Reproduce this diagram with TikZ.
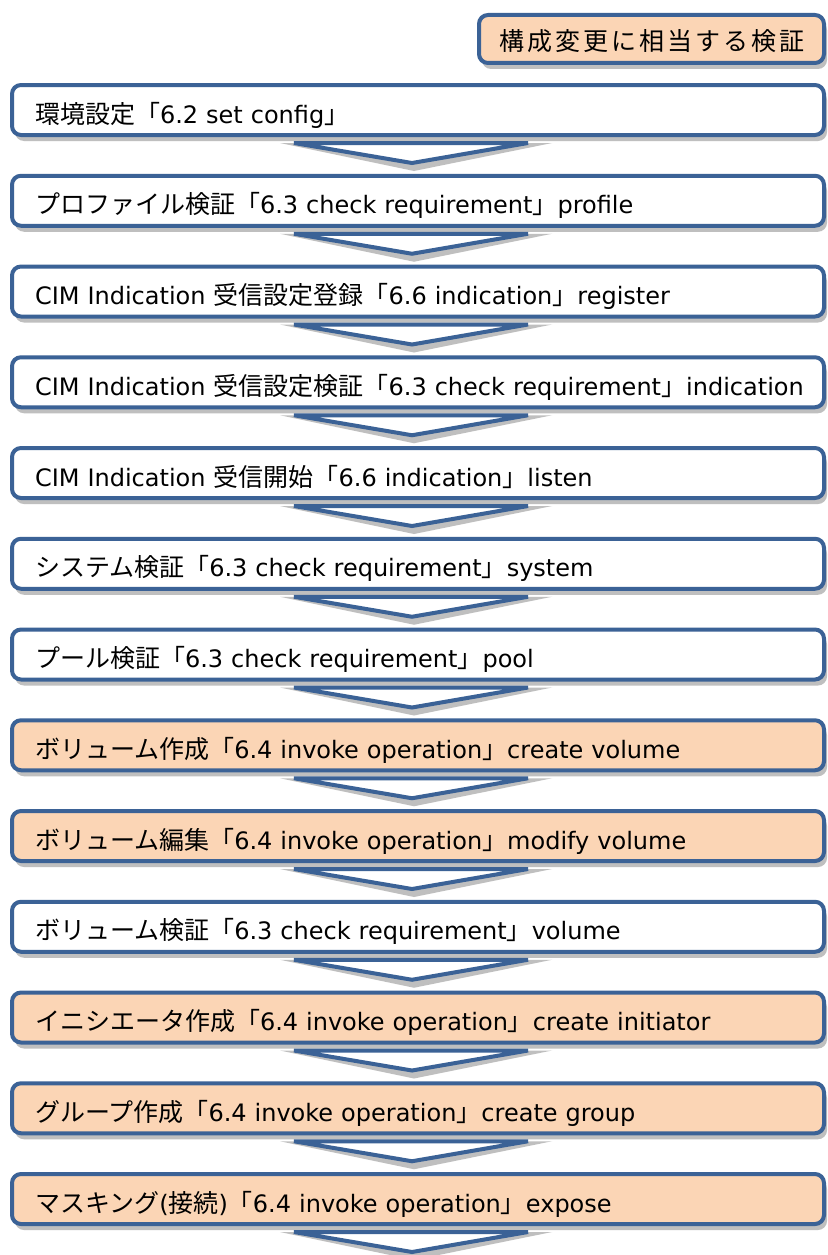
\documentclass[tikz,border=0pt]{standalone}
\usepackage{fontspec}
\setmainfont{DejaVu Sans}
\newfontfamily\jpfont{Noto Sans CJK JP}
\newfontfamily\hdrfont[LetterSpace=12]{Noto Sans CJK JP}
\usetikzlibrary{positioning,calc,shadows}
\definecolor{stepblue}{HTML}{3B6296}
\definecolor{peach}{HTML}{FBD5B5}
\newcommand\jp[1]{{\jpfont\fontsize{25pt}{28pt}\selectfont #1}}
\tikzset{
stepbox/.style={draw=stepblue, line width=4pt, fill=white, rounded corners=9pt, outer sep=0pt,
  minimum height=50pt, inner xsep=23pt, inner ysep=0pt, text width=766pt, align=left,
  text height=26pt, text depth=0pt, font=\fontsize{24pt}{28pt}\selectfont,
  drop shadow={shadow xshift=3pt, shadow yshift=-6pt, fill=black!25, opacity=1},
  execute at begin node={\hbox\bgroup}, execute at end node={\egroup}},
opbox/.style={stepbox, fill=peach},
hdrbox/.style={draw=stepblue, line width=4pt, fill=peach, rounded corners=9pt, outer sep=0pt,
  minimum width=345pt, minimum height=48pt, inner sep=0pt, text height=24pt, text depth=0pt,
  font=\hdrfont\fontsize{25pt}{28pt}\selectfont,
  drop shadow={shadow xshift=3pt, shadow yshift=-6pt, fill=black!25, opacity=1}},
chev/.style={draw=stepblue, line width=4pt, fill=white},
chevshadow/.style={fill=black!25}
}
\begin{document}
\begin{tikzpicture}
\path[use as bounding box, fill=white] (0,0) rectangle (827pt,-1255pt);
\node[hdrbox, anchor=north west] (hdr) at (479pt,-15pt) {構成変更に相当する検証};
\node[stepbox, anchor=north west] (cfg) at (12pt,-85pt) {\jp{環境設定「}6.2 set config\jp{」}};
\node[stepbox, below=40.75pt of cfg] (prof) {\jp{プロファイル検証「}6.3 check requirement\jp{」}profile};
\node[stepbox, below=40.75pt of prof] (indreg) {CIM Indication \jp{受信設定登録「}6.6 indication\jp{」}register};
\node[stepbox, below=40.75pt of indreg] (indchk) {CIM Indication \jp{受信設定検証「}6.3 check requirement\jp{」}indication};
\node[stepbox, below=40.75pt of indchk] (listen) {CIM Indication \jp{受信開始「}6.6 indication\jp{」}listen};
\node[stepbox, below=40.75pt of listen] (sys) {\jp{システム検証「}6.3 check requirement\jp{」}system};
\node[stepbox, below=40.75pt of sys] (pool) {\jp{プール検証「}6.3 check requirement\jp{」}pool};
\node[opbox, below=40.75pt of pool] (mkvol) {\jp{ボリューム作成「}6.4 invoke operation\jp{」}create volume};
\node[opbox, below=40.75pt of mkvol] (modvol) {\jp{ボリューム編集「}6.4 invoke operation\jp{」}modify volume};
\node[stepbox, below=40.75pt of modvol] (chkvol) {\jp{ボリューム検証「}6.3 check requirement\jp{」}volume};
\node[opbox, below=40.75pt of chkvol] (mkinit) {\jp{イニシエータ作成「}6.4 invoke operation\jp{」}create initiator};
\node[opbox, below=40.75pt of mkinit] (mkgrp) {\jp{グループ作成「}6.4 invoke operation\jp{」}create group};
\node[opbox, below=40.75pt of mkgrp] (expose) {\jp{マスキング}(\jp{接続})\jp{「}6.4 invoke operation\jp{」}expose};
\foreach \s in {cfg,prof,indreg,indchk,listen,sys,pool,mkvol,modvol,chkvol,mkinit,mkgrp,expose}{
\fill[chevshadow] ($(\s.south west)+(268pt,-8pt)$) -- ++(272pt,0pt) -- ($(\s.south west)+(402pt,-36pt)$) -- cycle;
\draw[chev] ($(\s.south west)+(282pt,-8pt)$) -- ++(234pt,0pt) -- ($(\s.south west)+(400pt,-28pt)$) -- cycle;
}
\end{tikzpicture}
\end{document}
